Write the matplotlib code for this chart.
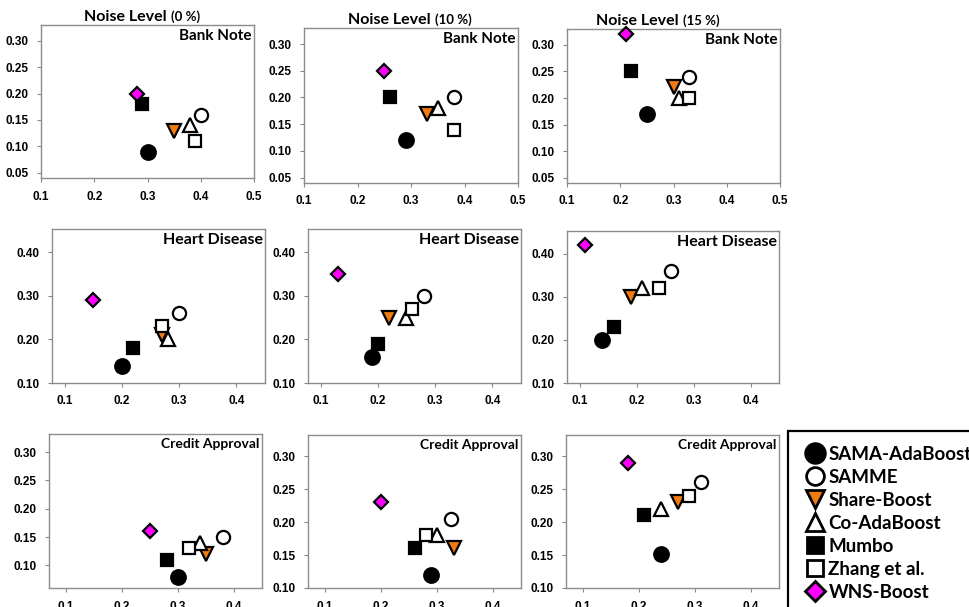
import numpy as np
import matplotlib
matplotlib.use('Agg')
import matplotlib.pyplot as plt

# panels: rows = datasets, cols = noise levels
datasets = ['Bank Note', 'Heart Disease', 'Credit Approval']
noise_levels = ['0 %', '10 %', '15 %']
methods = ['SAMA-AdaBoost', 'SAMME', 'Share-Boost', 'Co-AdaBoost',
           'Mumbo', 'Zhang et al.', 'WNS-Boost']

# values per method, 9 panels in row order (Bank 0/10/15, Heart 0/10/15, Credit 0/10/15)
sama_x = [0.30, 0.29, 0.25, 0.20, 0.19, 0.14, 0.30, 0.29, 0.24]
sama_y = [0.09, 0.12, 0.17, 0.14, 0.16, 0.20, 0.08, 0.12, 0.152]
samme_x = [0.40, 0.38, 0.33, 0.30, 0.28, 0.26, 0.38, 0.325, 0.31]
samme_y = [0.16, 0.20, 0.24, 0.26, 0.30, 0.36, 0.15, 0.205, 0.26]
share_x = [0.35, 0.33, 0.30, 0.27, 0.22, 0.19, 0.35, 0.33, 0.27]
share_y = [0.13, 0.17, 0.22, 0.21, 0.25, 0.30, 0.12, 0.16, 0.23]
co_x = [0.38, 0.35, 0.31, 0.28, 0.25, 0.21, 0.34, 0.30, 0.24]
co_y = [0.14, 0.18, 0.20, 0.20, 0.25, 0.32, 0.14, 0.18, 0.22]
mumbo_x = [0.29, 0.26, 0.22, 0.22, 0.20, 0.16, 0.28, 0.26, 0.21]
mumbo_y = [0.18, 0.20, 0.25, 0.18, 0.19, 0.23, 0.11, 0.16, 0.21]
zhang_x = [0.39, 0.38, 0.33, 0.27, 0.26, 0.24, 0.32, 0.28, 0.29]
zhang_y = [0.11, 0.14, 0.20, 0.23, 0.27, 0.32, 0.13, 0.18, 0.24]
wns_x = [0.28, 0.25, 0.21, 0.15, 0.13, 0.11, 0.25, 0.20, 0.18]
wns_y = [0.20, 0.25, 0.32, 0.29, 0.35, 0.42, 0.16, 0.23, 0.29]

all_x = [sama_x, samme_x, share_x, co_x, mumbo_x, zhang_x, wns_x]
all_y = [sama_y, samme_y, share_y, co_y, mumbo_y, zhang_y, wns_y]

markers = ['o', 'o', 'v', '^', 's', 's', 'D']
faces = ['black', 'white', '#F07B10', 'white', 'black', 'white', '#FF00FF']
sizes = [10.5, 9.5, 9.5, 9.5, 9, 8.5, 7.5]

# axes limits / ticks per row
xlims = [(0.1, 0.5), (0.078, 0.45), (0.07, 0.45)]
xticks = [[0.1, 0.2, 0.3, 0.4, 0.5], [0.1, 0.2, 0.3, 0.4], [0.1, 0.2, 0.3, 0.4]]
ylims = [[(0.04, 0.33)] * 3, [(0.10, 0.453)] * 3, [(0.06, 0.332), (0.10, 0.332), (0.10, 0.332)]]
yticks = [[0.05, 0.10, 0.15, 0.20, 0.25, 0.30], [0.10, 0.20, 0.30, 0.40],
          [0.10, 0.15, 0.20, 0.25, 0.30]]
label_sizes = [11, 11.5, 10]

# axes boxes in pixels (left, top, right, bottom)
W, H = 969, 607
boxes = [
    [(41, 25, 254, 178), (304, 28, 518, 183), (567, 29, 780, 183)],
    [(52, 229, 265, 383), (308, 229, 521, 383), (567, 231, 779, 383)],
    [(49, 434, 262, 588), (308, 435, 521, 588), (566, 435, 779, 588)],
]
title_split = [0.59, 0.59, 0.525]

tick_font = dict(family='Liberation Sans', weight='bold', size=8.5)
lab_font = 'Lato'

fig = plt.figure(figsize=(W / 100, H / 100), dpi=100)

for r in range(3):
    for c in range(3):
        l, t, rr, b = boxes[r][c]
        ax = fig.add_axes([l / W, 1 - b / H, (rr - l) / W, (b - t) / H])
        k = r * 3 + c
        for m in range(len(methods)):
            ax.plot(all_x[m][k], all_y[m][k], linestyle='none', marker=markers[m],
                    ms=sizes[m], mfc=faces[m], mec='black', mew=1.6, clip_on=False,
                    zorder=3)
        ax.set_xlim(*xlims[r])
        ax.set_ylim(*ylims[r][c])
        ax.set_xticks(xticks[r])
        ax.set_yticks(yticks[r])
        ax.set_xticklabels(['%.1f' % v for v in xticks[r]], fontdict=tick_font)
        ax.set_yticklabels(['%.2f' % v for v in yticks[r]], fontdict=tick_font)
        ax.tick_params(direction='out', length=3, width=0.8, color='#888888', pad=6)
        for s in ax.spines.values():
            s.set_color('#8c8c8c')
            s.set_linewidth(1.0)
        ax.text(0.99, 0.975, datasets[r], transform=ax.transAxes, ha='right', va='top',
                family=lab_font, weight='bold', size=label_sizes[r])
        if r == 0:
            ax.text(title_split[c], 1.005, 'Noise Level', transform=ax.transAxes,
                    ha='right', va='bottom', family=lab_font, weight='bold', size=11.5)
            ax.text(title_split[c] + 0.02, 1.01, '(' + noise_levels[c] + ')',
                    transform=ax.transAxes, ha='left', va='bottom', family=lab_font,
                    weight='bold', size=9.5)

# legend
handles = []
for m in range(len(methods)):
    h, = plt.plot([], [], linestyle='none', marker=markers[m], ms=sizes[m] * 1.35,
                  mfc=faces[m], mec='black', mew=2)
    handles.append(h)
leg = fig.legend(handles, methods, loc='upper left', bbox_to_anchor=(788 / W, 1 - 431 / H),
                 frameon=True, fancybox=False, edgecolor='black', framealpha=1,
                 handlelength=1.28, handletextpad=0.08, labelspacing=0.32, borderpad=0.8,
                 borderaxespad=0, prop=dict(family=lab_font, weight='bold', size=13.5))
leg.get_frame().set_linewidth(1.6)

fig.savefig('out.png', dpi=100)
